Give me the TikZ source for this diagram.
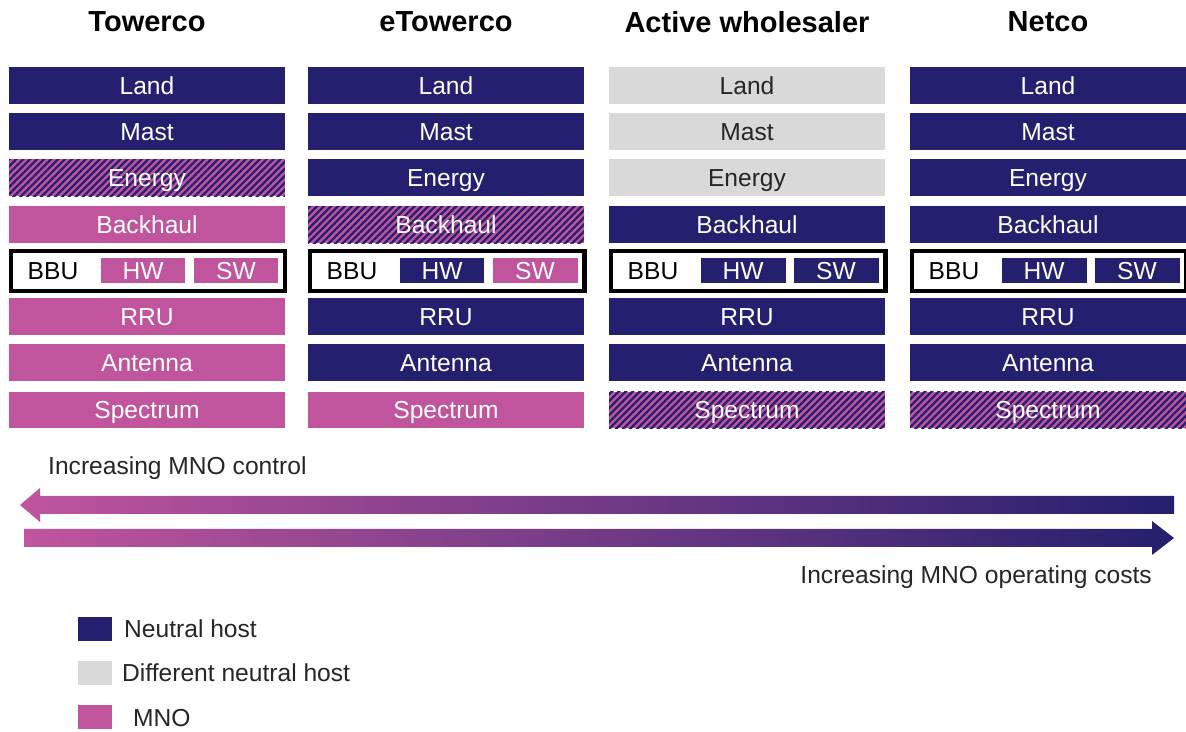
\documentclass[tikz,border=0pt]{standalone}
\usepackage{fontspec}
\setmainfont{Liberation Sans}
\usepackage{xcolor}
\definecolor{nhnavy}{RGB}{36,31,110}
\definecolor{dnhgrey}{RGB}{217,217,217}
\definecolor{mnopink}{RGB}{192,85,158}
\usetikzlibrary{patterns.meta}

\begin{document}
\begin{tikzpicture}[x=0.02cm,y=-0.02cm,
  cell/.style={minimum width=5.52cm,minimum height=0.74cm,inner sep=0pt,text height=10pt,text depth=0pt,font=\fontsize{14}{16}\selectfont,text=white},
  nh/.style={cell,fill=nhnavy},
  dnh/.style={cell,fill=dnhgrey,text=black!85},
  mno/.style={cell,fill=mnopink},
  mix/.style={cell,preaction={fill=mnopink},pattern={Lines[angle=45,distance=2.8pt,line width=1.3pt]},pattern color=nhnavy},
  part/.style={minimum width=1.7cm,minimum height=0.5cm,inner sep=0pt,text height=10pt,text depth=0pt,font=\fontsize{14}{16}\selectfont,text=white},
  bbuframe/.style={draw=black,line width=2.3pt,minimum width=5.5cm,minimum height=0.8cm,inner sep=0pt},
  title/.style={font=\fontsize{16.5}{19}\selectfont\bfseries},
  note/.style={font=\fontsize{14}{16}\selectfont,text=black!85},
  key/.style={minimum width=0.68cm,minimum height=0.48cm,inner sep=0pt}]
  \useasboundingbox (0,0) rectangle (1186,732);
  % Titles
  \node[title] (tTitle) at (147,22) {Towerco};
  \node[title] (eTitle) at (446,22) {eTowerco};
  \node[title] (aTitle) at (747,22) {Active wholesaler};
  \node[title] (nTitle) at (1048,22) {Netco};
  % Towerco
  \node[nh] (tLand) at (147,86) {Land};
  \node[nh] (tMast) at (147,132) {Mast};
  \node[mix] (tEnergy) at (147,178) {Energy};
  \node[mno] (tBack) at (147,225) {Backhaul};
  \node[bbuframe] (tBBU) at (148,271) {};
  \node[part,text=black] (tBBUtxt) at (53,271) {BBU};
  \node[part,fill=mnopink] (tHW) at (143,271) {HW};
  \node[part,fill=mnopink] (tSW) at (236,271) {SW};
  \node[mno] (tRRU) at (147,317) {RRU};
  \node[mno] (tAnt) at (147,363) {Antenna};
  \node[mno] (tSpec) at (147,410) {Spectrum};
  % eTowerco
  \node[nh] (eLand) at (446,86) {Land};
  \node[nh] (eMast) at (446,132) {Mast};
  \node[nh] (eEnergy) at (446,178) {Energy};
  \node[mix] (eBack) at (446,225) {Backhaul};
  \node[bbuframe] (eBBU) at (447,271) {};
  \node[part,text=black] (eBBUtxt) at (352,271) {BBU};
  \node[part,fill=nhnavy] (eHW) at (442,271) {HW};
  \node[part,fill=mnopink] (eSW) at (535,271) {SW};
  \node[nh] (eRRU) at (446,317) {RRU};
  \node[nh] (eAnt) at (446,363) {Antenna};
  \node[mno] (eSpec) at (446,410) {Spectrum};
  % Active wholesaler
  \node[dnh] (aLand) at (747,86) {Land};
  \node[dnh] (aMast) at (747,132) {Mast};
  \node[dnh] (aEnergy) at (747,178) {Energy};
  \node[nh] (aBack) at (747,225) {Backhaul};
  \node[bbuframe] (aBBU) at (748,271) {};
  \node[part,text=black] (aBBUtxt) at (653,271) {BBU};
  \node[part,fill=nhnavy] (aHW) at (743,271) {HW};
  \node[part,fill=nhnavy] (aSW) at (836,271) {SW};
  \node[nh] (aRRU) at (747,317) {RRU};
  \node[nh] (aAnt) at (747,363) {Antenna};
  \node[mix] (aSpec) at (747,410) {Spectrum};
  % Netco
  \node[nh] (nLand) at (1048,86) {Land};
  \node[nh] (nMast) at (1048,132) {Mast};
  \node[nh] (nEnergy) at (1048,178) {Energy};
  \node[nh] (nBack) at (1048,225) {Backhaul};
  \node[bbuframe] (nBBU) at (1049,271) {};
  \node[part,text=black] (nBBUtxt) at (954,271) {BBU};
  \node[part,fill=nhnavy] (nHW) at (1044,271) {HW};
  \node[part,fill=nhnavy] (nSW) at (1137,271) {SW};
  \node[nh] (nRRU) at (1048,317) {RRU};
  \node[nh] (nAnt) at (1048,363) {Antenna};
  \node[mix] (nSpec) at (1048,410) {Spectrum};
  % Gradient arrows
  \node[note,anchor=west] (control) at (42,468) {Increasing MNO control};
  \shade[left color=mnopink,right color=nhnavy] (1174,496) -- (40,496) -- (40,488) -- (20,505)
    -- (40,522) -- (40,514) -- (1174,514) -- cycle;
  \shade[left color=mnopink,right color=nhnavy] (24,529) -- (1152,529) -- (1152,521) -- (1174,538)
    -- (1152,555) -- (1152,547) -- (24,547) -- cycle;
  \node[note,anchor=east] (costs) at (1158,577) {Increasing MNO operating costs};
  % Legend
  \node[key,fill=nhnavy] (kNH) at (95,629) {};
  \node[note,anchor=west] (lNH) at (118,629) {Neutral host};
  \node[key,fill=dnhgrey] (kDNH) at (95,673) {};
  \node[note,anchor=west] (lDNH) at (116,673) {Different neutral host};
  \node[key,fill=mnopink] (kMNO) at (95,717) {};
  \node[note,anchor=west] (lMNO) at (127,718) {MNO};
\end{tikzpicture}
\end{document}
